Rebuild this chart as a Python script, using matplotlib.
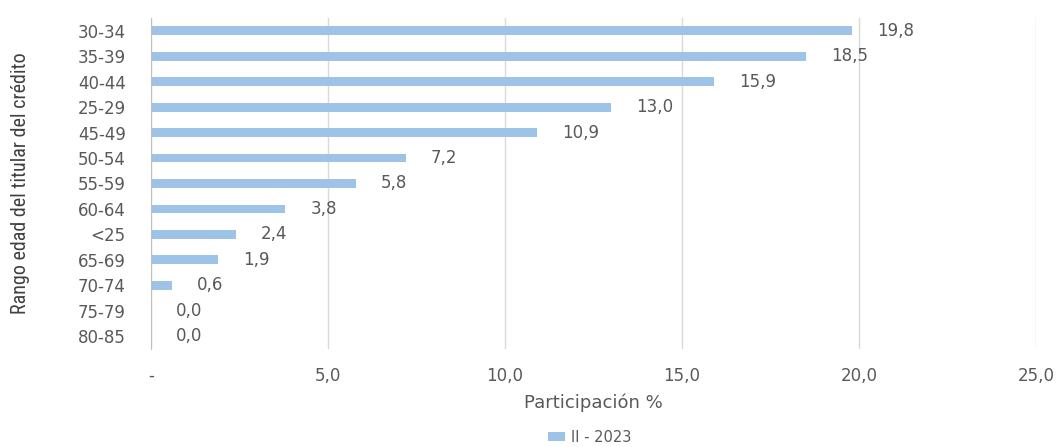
import matplotlib
matplotlib.use("Agg")
import matplotlib.pyplot as plt
from matplotlib import font_manager

categories = ["30-34", "35-39", "40-44", "25-29", "45-49", "50-54", "55-59",
              "60-64", "<25", "65-69", "70-74", "75-79", "80-85"]
values = [19.8, 18.5, 15.9, 13.0, 10.9, 7.2, 5.8, 3.8, 2.4, 1.9, 0.6, 0.0, 0.0]
xticks = [0, 5, 10, 15, 20, 25]
xtick_labels = ["-", "5,0", "10,0", "15,0", "20,0", "25,0"]
series_name = "II - 2023"

fonts = [(f.name, f.stretch) for f in font_manager.fontManager.ttflist]
narrow_family = "DejaVu Sans"
narrow_stretch = "normal"
for cand in ["Liberation Sans Narrow", "Roboto Condensed", "Open Sans Condensed"]:
    if any(n == cand for n, _ in fonts):
        narrow_family = cand
        break
else:
    if any(n == "DejaVu Sans" and s == "condensed" for n, s in fonts):
        narrow_stretch = "condensed"

txt = "#595959"
bar_color = "#9DC3E6"

fig = plt.figure(figsize=(10.62, 4.47), dpi=100)
ax = fig.add_axes([0.142, 0.219, 0.8335, 0.741])

ypos = list(range(len(categories)))
bars = ax.barh(ypos, values, height=0.35, color=bar_color, label=series_name, zorder=3)
ax.set_ylim(len(categories) - 0.5, -0.5)
ax.set_xlim(0, 25)
ax.set_yticks(ypos)
ax.set_yticklabels(categories, fontsize=12, color=txt)
ax.set_xticks(xticks)
ax.set_xticklabels(xtick_labels, fontsize=12, color=txt)
ax.tick_params(axis="y", length=0, pad=18)
ax.tick_params(axis="x", length=0, pad=13)

for y, v in zip(ypos, values):
    ax.annotate(f"{v:.1f}".replace(".", ","), (v, y), xytext=(18, 0),
                textcoords="offset points", va="center", ha="left",
                fontsize=12, color=txt, zorder=4)

ax.grid(axis="x", color="#D9D9D9", linewidth=1, zorder=0)
ax.set_axisbelow(True)
for s in ["top", "right", "bottom"]:
    ax.spines[s].set_visible(False)
ax.spines["left"].set_color("#BFBFBF")
ax.spines["left"].set_zorder(5)

ax.set_xlabel("Participación %", fontsize=13, color=txt, labelpad=6)
ax.set_ylabel("Rango edad del titular del crédito", fontsize=14.5, color="#404040",
              family=narrow_family, fontstretch=narrow_stretch, labelpad=34)

fig.legend(handles=[bars], labels=[series_name], loc="center",
           bbox_to_anchor=(0.555, 0.022), frameon=False, fontsize=10.5,
           handlelength=1.2, handleheight=0.5, handletextpad=0.4, labelcolor=txt)

fig.savefig("out.png", dpi=100)
